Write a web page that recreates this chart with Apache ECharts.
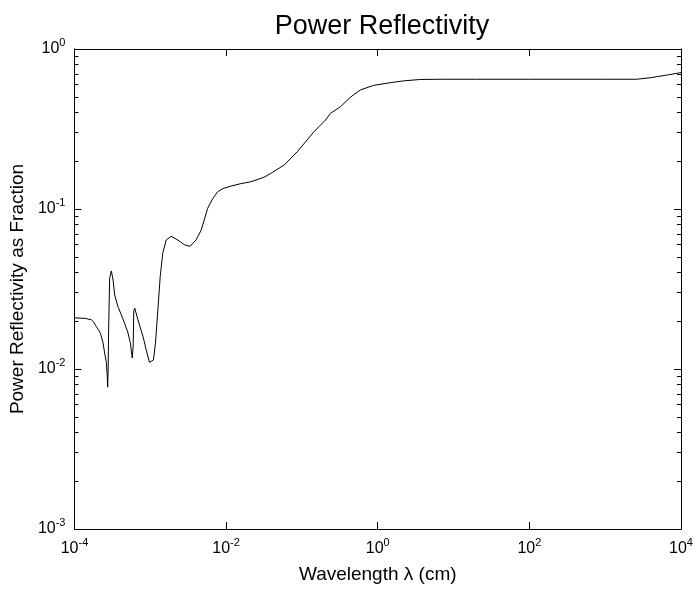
<!DOCTYPE html>
<html>
<head>
<meta charset="utf-8">
<script src="https://cdn.jsdelivr.net/npm/echarts@6/dist/echarts.min.js"></script>
<style>
html,body{margin:0;padding:0;background:#fff;}
#chart{width:698px;height:593px;}
</style>
</head>
<body>
<div id="chart"></div>
<script>
const titleText = 'Power Reflectivity';
const xName = 'Wavelength \u03bb (cm)';
const yName = 'Power Reflectivity as Fraction';

const wavelength = [
  1.0e-4, 1.4e-4, 1.67e-4, 1.8e-4, 1.94e-4, 2.07e-4, 2.2e-4, 2.38e-4, 2.5e-4, 2.63e-4,
  2.70e-4, 2.74e-4, 2.78e-4, 2.82e-4, 2.91e-4, 3.06e-4, 3.23e-4, 3.39e-4, 3.75e-4, 4.15e-4,
  4.58e-4, 5.08e-4, 5.45e-4, 5.65e-4, 5.78e-4, 5.95e-4, 6.05e-4, 6.24e-4, 6.87e-4, 8.0e-4,
  8.83e-4, 9.75e-4, 1.03e-3, 1.10e-3, 1.17e-3, 1.26e-3, 1.35e-3, 1.46e-3, 1.62e-3, 1.88e-3,
  2.31e-3, 2.81e-3, 3.34e-3, 4.01e-3, 4.67e-3, 5.15e-3, 5.71e-3, 6.65e-3, 7.73e-3, 9.0e-3,
  1.16e-2, 1.56e-2, 2.12e-2, 3.17e-2, 3.88e-2, 5.8e-2, 8.7e-2, 0.144, 0.205, 0.238,
  0.323, 0.437, 0.59, 0.88, 1.47, 2.19, 3.63, 6.65, 20, 100,
  1000, 2576, 2700, 4000, 4864, 6580, 8910, 10000
];
const reflectivity = [
  0.0209, 0.0207, 0.0203, 0.0196, 0.0184, 0.0176, 0.0167, 0.0146, 0.0126, 0.0110,
  0.0092, 0.0077, 0.0100, 0.0175, 0.0370, 0.0410, 0.0360, 0.0290, 0.0245, 0.0218,
  0.0193, 0.0168, 0.0146, 0.0128, 0.0117, 0.0140, 0.0230, 0.0240, 0.0203, 0.0160,
  0.0132, 0.0110, 0.0108, 0.0114, 0.0145, 0.0235, 0.0377, 0.0528, 0.0640, 0.0675,
  0.0640, 0.0598, 0.0584, 0.0640, 0.0735, 0.0855, 0.101, 0.116, 0.128, 0.134,
  0.139, 0.144, 0.148, 0.158, 0.167, 0.188, 0.228, 0.304, 0.360, 0.396,
  0.436, 0.500, 0.555, 0.592, 0.616, 0.632, 0.645, 0.647, 0.647, 0.647,
  0.647, 0.647, 0.656, 0.662, 0.672, 0.688, 0.705, 0.712
];

const xMajorTicks = [1e-4, 1e-2, 1, 1e2, 1e4];
const yMajorTicks = [1e-3, 1e-2, 1e-1, 1];
const yMinorTicks = [];
[1e-3, 1e-2, 1e-1].forEach(function (d) {
  for (let k = 2; k <= 9; k++) yMinorTicks.push(+(d * k).toPrecision(3));
});

const FONT = 'Liberation Sans, Arial, Helvetica, sans-serif';
const data = wavelength.map(function (w, i) { return [w, reflectivity[i]]; });

function powLabel(v) {
  const e = Math.round(Math.log10(v));
  return '{b|10}{s|' + e + '}';
}
const richLab = {
  b: { fontSize: 16, fontFamily: FONT, color: '#000' },
  s: { fontSize: 11, fontFamily: FONT, color: '#000', padding: [0, 0, 12, 0] }
};

function xAx(pos, showLab) {
  return {
    type: 'log', logBase: 10, min: 1e-4, max: 1e4, position: pos,
    gridIndex: 0,
    name: showLab ? xName : '', nameLocation: 'middle', nameGap: 36,
    nameTextStyle: { fontSize: 19, fontFamily: FONT, color: '#000' },
    axisLine: { show: true, onZero: false, lineStyle: { color: '#000', width: 1 } },
    axisTick: { show: true, inside: true, length: 7, customValues: xMajorTicks, lineStyle: { color: '#000', width: 1 } },
    minorTick: { show: false },
    splitLine: { show: false },
    axisLabel: { show: showLab, customValues: xMajorTicks, formatter: powLabel, rich: richLab, margin: 8 }
  };
}
function yAx(pos, ticks, len, showLab) {
  return {
    type: 'log', logBase: 10, min: 1e-3, max: 1, position: pos,
    gridIndex: 0,
    name: showLab ? yName : '', nameLocation: 'middle', nameGap: 44,
    nameTextStyle: { fontSize: 19, fontFamily: FONT, color: '#000' },
    axisLine: { show: true, onZero: false, lineStyle: { color: '#000', width: 1 } },
    axisTick: { show: true, inside: true, length: len, customValues: ticks, lineStyle: { color: '#000', width: 1 } },
    minorTick: { show: false },
    splitLine: { show: false },
    axisLabel: { show: showLab, customValues: yMajorTicks, formatter: powLabel, rich: richLab, margin: 9 }
  };
}

const chart = echarts.init(document.getElementById('chart'), null, { renderer: 'canvas' });
chart.setOption({
  animation: false,
  backgroundColor: '#fff',
  title: {
    text: titleText, left: 377, top: 8, textAlign: 'center',
    textStyle: { fontSize: 27, fontWeight: 'normal', fontFamily: FONT, color: '#000' }
  },
  grid: { left: 73, right: 17, top: 49, bottom: 64, containLabel: false },
  xAxis: [xAx('bottom', true), xAx('top', false)],
  yAxis: [
    yAx('left', yMajorTicks, 7, true),
    yAx('left', yMinorTicks, 4, false),
    yAx('right', yMajorTicks, 7, false),
    yAx('right', yMinorTicks, 4, false)
  ],
  series: [{
    type: 'line', xAxisIndex: 0, yAxisIndex: 0, data: data,
    showSymbol: false, symbol: 'none', smooth: false,
    lineStyle: { color: '#000', width: 1 }
  }]
});
</script>
</body>
</html>
